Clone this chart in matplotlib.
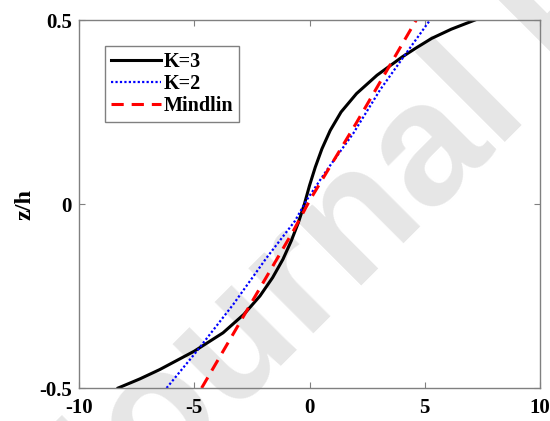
import matplotlib.pyplot as plt

# K=3 profile (z/h, value)
z_k3 = [-0.5, -0.475, -0.45, -0.4, -0.35, -0.3, -0.25, -0.2, -0.15, -0.1, -0.05,
        0.0, 0.05, 0.1, 0.15, 0.2, 0.25, 0.3, 0.35, 0.4, 0.425, 0.45, 0.475, 0.5]
x_k3 = [-8.3, -7.35, -6.5, -5.0, -3.75, -2.85, -2.15, -1.6, -1.15, -0.79, -0.48,
        -0.22, 0.0, 0.25, 0.54, 0.9, 1.37, 2.04, 2.93, 4.03, 4.65, 5.3, 6.15, 7.18]

# K=2 profile
z_k2 = [-0.5, -0.4, -0.273, -0.146, -0.046, 0.011, 0.092, 0.192, 0.31, 0.405, 0.5]
x_k2 = [-6.2, -4.89, -3.31, -1.86, -0.63, -0.12, 0.75, 1.9, 3.06, 4.14, 5.23]

# Mindlin (first-order) profile
z_mind = [-0.5, -0.309, -0.073, 0.011, 0.219, 0.5]
x_mind = [-4.68, -2.9, -0.70, 0.02, 2.02, 4.63]

xticks = [-10, -5, 0, 5, 10]
yticks = [-0.5, 0, 0.5]

plt.rcParams['font.family'] = ['Liberation Serif', 'DejaVu Serif']
plt.rcParams['font.weight'] = 'bold'

fig = plt.figure(figsize=(5.5, 4.21), dpi=100)
ax = fig.add_axes([79 / 550, 1 - 388 / 421, 461 / 550, 368 / 421])
ax.set_zorder(2)
ax.set_facecolor('none')

# light diagonal watermark underneath the axes
fig.text(0.16, -0.33, 'Journal Pre-proof', fontsize=125, color='#e6e6e6',
         family='Liberation Sans', fontweight='bold', rotation=45,
         rotation_mode='anchor', ha='left', va='baseline', zorder=0)

ax.plot(x_k3, z_k3, color='black', lw=2.2, label='K=3')
ax.plot(x_k2, z_k2, color='blue', lw=1.6, ls=(0, (1, 1)), label='K=2')
ax.plot(x_mind, z_mind, color='red', lw=2.2, ls=(0, (4, 2.6)), label='Mindlin')

ax.set_xlim(-10, 10)
ax.set_ylim(-0.5, 0.5)
ax.set_xticks(xticks)
ax.set_yticks(yticks)
ax.set_xticklabels(['-10', '-5', '0', '5', '10'])
ax.set_yticklabels(['-0.5', '0', '0.5'])
ax.tick_params(direction='in', top=True, right=True, length=4, width=0.8,
               color='#808080', labelsize=15)
ax.tick_params(axis='x', pad=7)
ax.tick_params(axis='y', pad=5)
for s in ax.spines.values():
    s.set_color('#808080')
    s.set_linewidth(1.0)

ax.set_ylabel('z/h', fontsize=17.5, fontweight='bold', labelpad=3)

leg = ax.legend(loc='upper left', bbox_to_anchor=(0.056, 0.929), fontsize=14.5,
                frameon=True, fancybox=False, handlelength=2.5,
                handletextpad=0.12, borderpad=0.3, labelspacing=0.1,
                borderaxespad=0)
leg.get_frame().set_edgecolor('#606060')
leg.get_frame().set_linewidth(1.0)
for t in leg.get_texts():
    t.set_fontweight('bold')

fig.savefig('out.png', dpi=100)
